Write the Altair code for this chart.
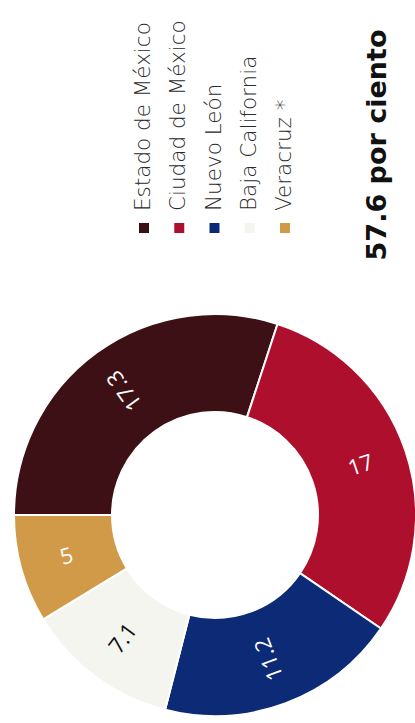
import altair as alt
import pandas as pd

estados = ["Estado de México", "Ciudad de México", "Nuevo León", "Baja California", "Veracruz"]
valores = [17.3, 17, 11.2, 7.1, 5]
etiquetas = ["17.3", "17", "11.2", "7.1", "5"]
leyenda = ["Estado de México", "Ciudad de México", "Nuevo León", "Baja California", "Veracruz *"]
colores = ["#3c1015", "#ae0f2c", "#0d2a77", "#f5f5f0", "#d09a48"]
titulo = "57.6 por ciento"

df = pd.DataFrame({"estado": estados, "valor": valores, "etiqueta": etiquetas})
df_leg = pd.DataFrame({"nombre": leyenda, "orden": list(range(len(leyenda)))})

color = alt.Color("estado:N", scale=alt.Scale(domain=estados, range=colores), legend=None)
theta_scale = alt.Scale(range=[4.71238898, 10.99557429])
CX, CY = 215, 515

base = alt.Chart(df).transform_window(
    idx="row_number()"
).transform_window(
    cum="sum(valor)", frame=[None, 0]
).transform_joinaggregate(
    total="sum(valor)"
).transform_calculate(
    mid="(datum.cum - datum.valor / 2) / datum.total * 360"
).transform_calculate(
    ang="datum.mid > 180 ? datum.mid : datum.mid + 180"
)

arcs = base.mark_arc(innerRadius=103, outerRadius=201, stroke="white", strokeWidth=2).encode(
    theta=alt.Theta("valor:Q", stack=True, scale=theta_scale),
    order=alt.Order("idx:Q"),
    color=color,
    x=alt.value(CX),
    y=alt.value(CY),
)

labels = base.mark_text(radius=154, font="Open Sans", fontSize=22, align="center", baseline="middle").encode(
    theta=alt.Theta("valor:Q", stack=True, scale=theta_scale),
    order=alt.Order("idx:Q"),
    text="etiqueta:N",
    angle=alt.Angle("ang:Q", scale=None),
    color=alt.condition(alt.datum.estado == "Baja California", alt.value("#111111"), alt.value("white")),
    x=alt.value(CX),
    y=alt.value(CY),
)

squares = alt.Chart(df).mark_square(size=100, opacity=1).encode(
    x=alt.X("estado:N", sort=estados, scale=alt.Scale(range=[144, 285], padding=0), axis=None),
    y=alt.value(228),
    color=color,
)

leg_text = alt.Chart(df_leg).mark_text(angle=270, align="left", baseline="middle", font="DejaVu Sans",
                                       fontSize=21.5, fontWeight=300, fill="#2a2a2a").encode(
    x=alt.X("orden:O", scale=alt.Scale(range=[144, 285], padding=0), axis=None),
    y=alt.value(211),
    text="nombre:N",
)

title = alt.Chart(pd.DataFrame({"t": [titulo]})).mark_text(
    angle=270, align="center", baseline="middle", font="DejaVu Sans", fontSize=27, fontWeight="bold", fill="#111111"
).encode(
    x=alt.value(378),
    y=alt.value(145),
    text="t:N",
)

chart = alt.layer(arcs, labels, squares, leg_text, title).resolve_scale(
    x="independent", theta="shared"
).properties(
    width=415, height=723, padding=0, autosize=alt.AutoSizeParams(type="none")
).configure_view(stroke=None)

chart.save("out.html", embed_options={"renderer": "svg", "actions": False})
